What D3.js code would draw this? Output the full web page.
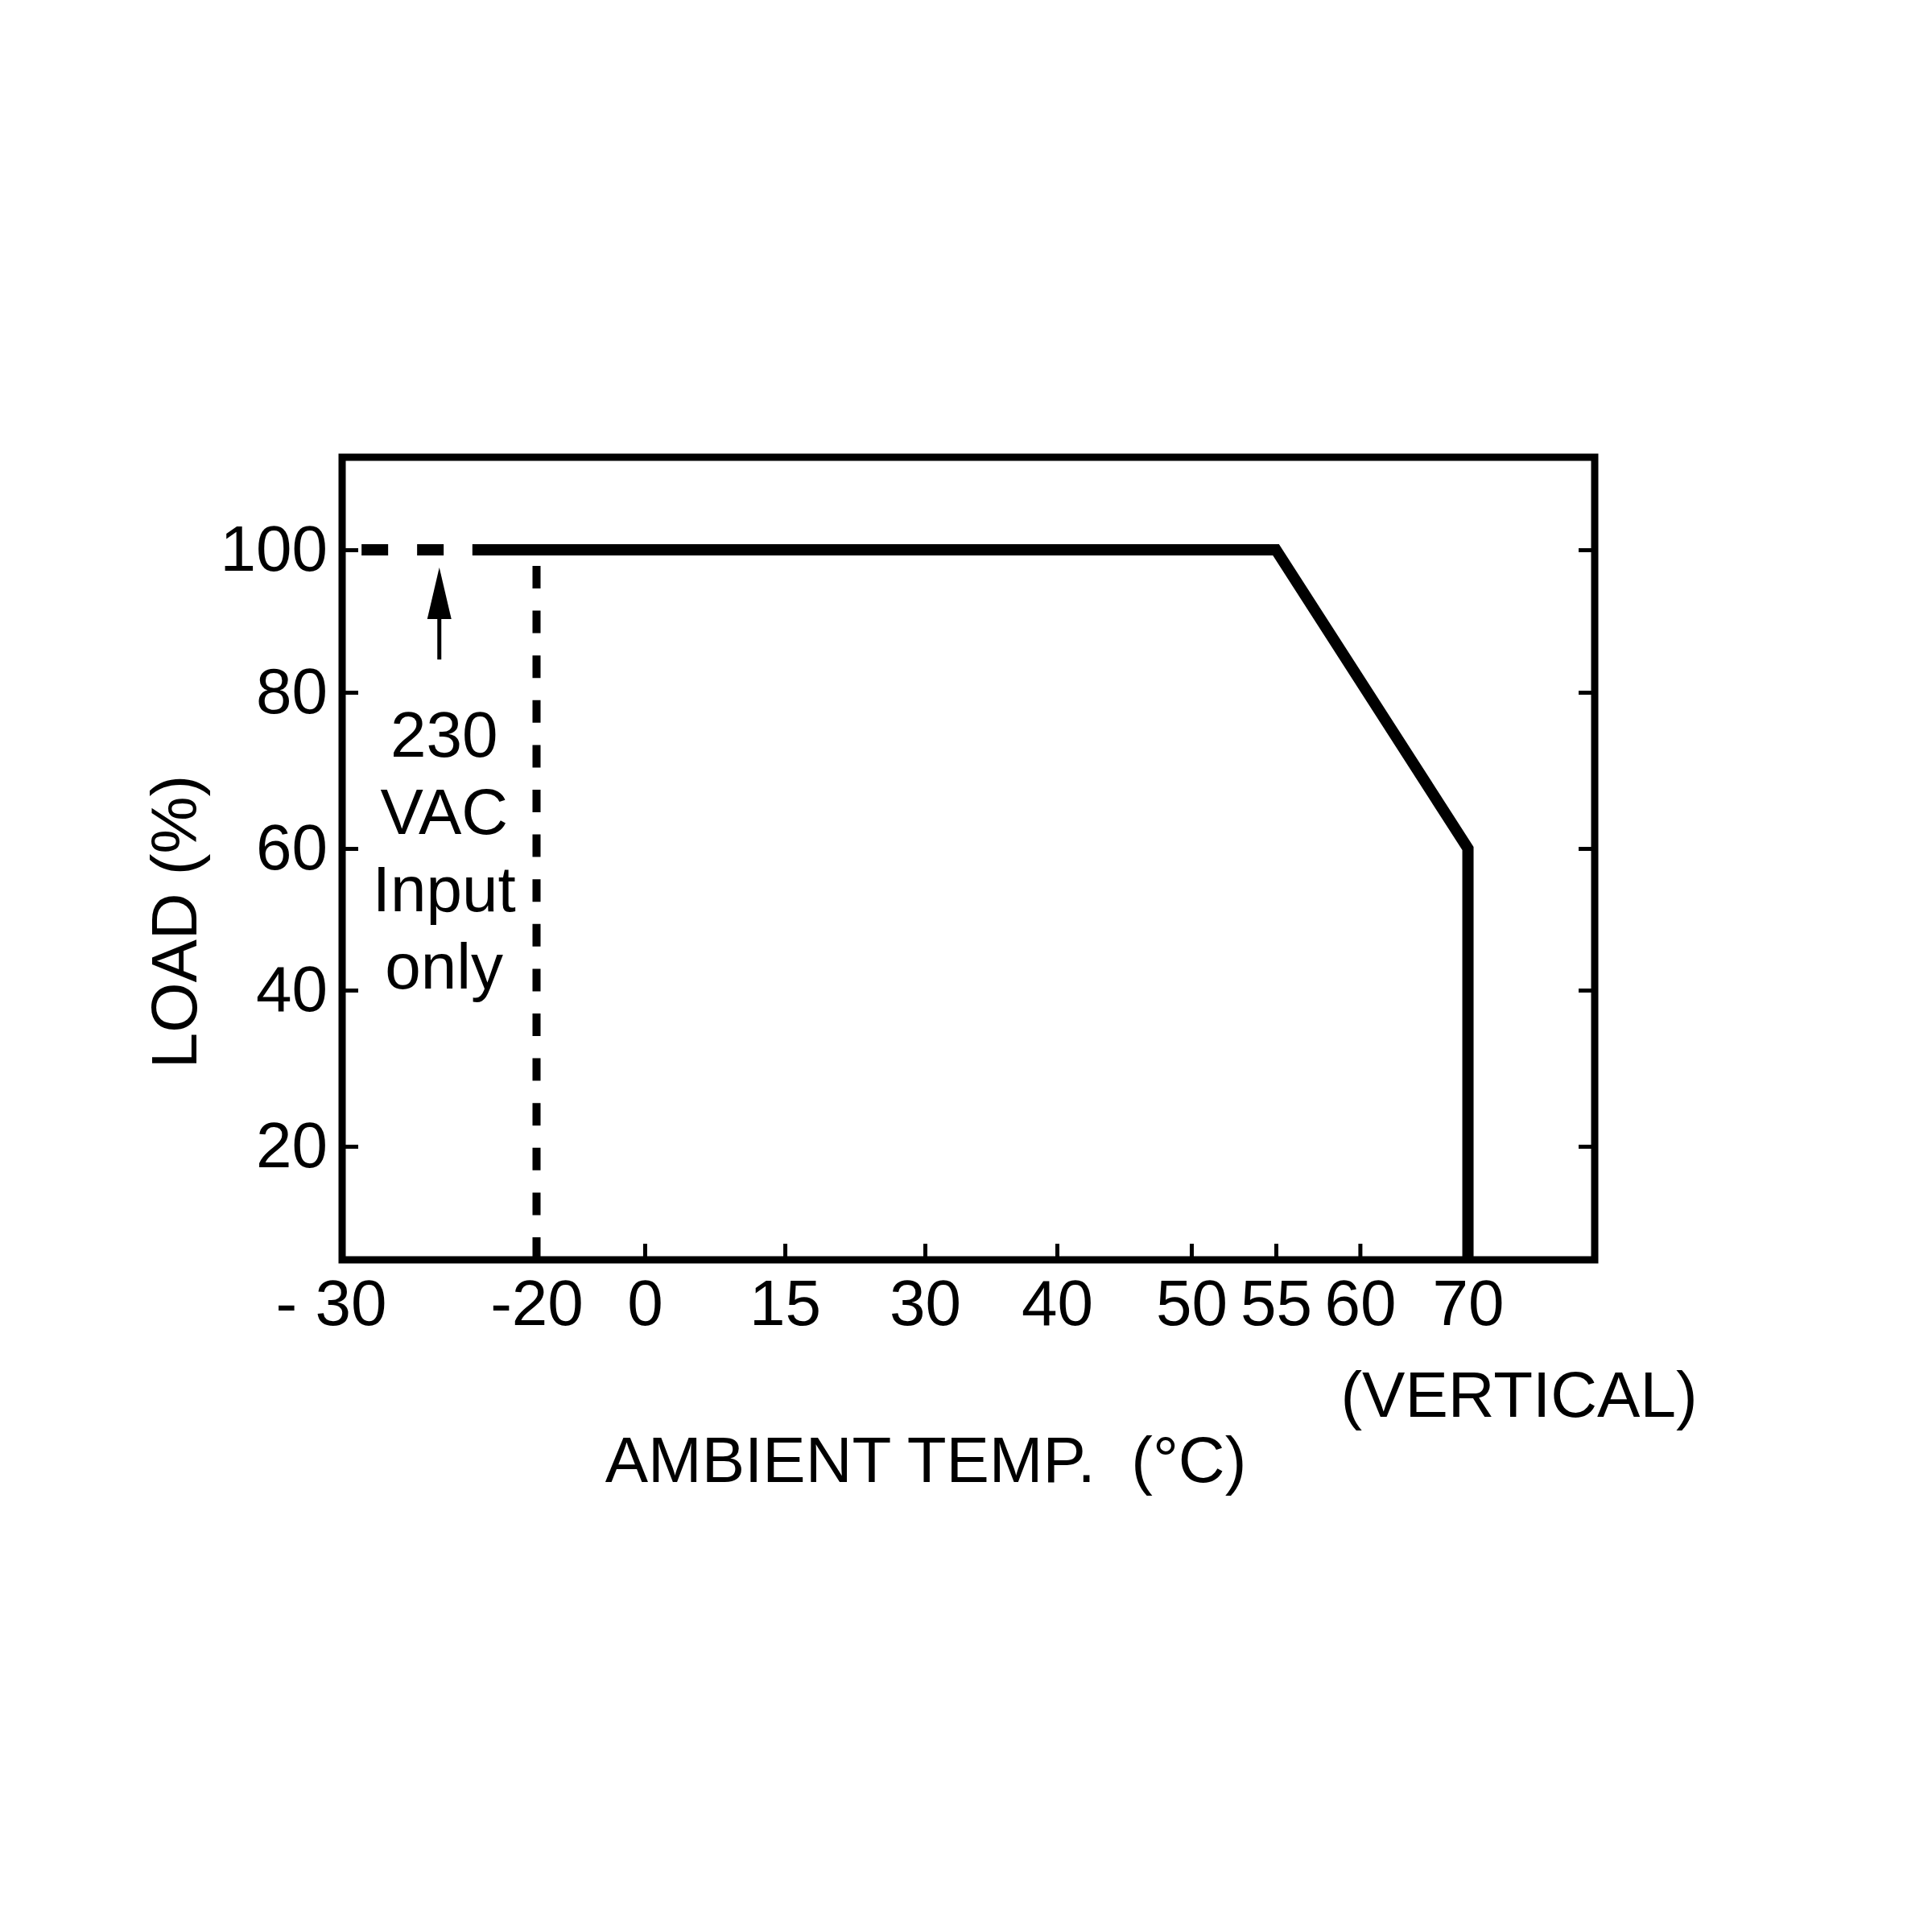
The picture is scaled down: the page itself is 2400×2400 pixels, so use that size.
<!DOCTYPE html>
<html>
<head>
<meta charset="utf-8">
<script src="https://cdn.jsdelivr.net/npm/d3@7"></script>
<style>
  body { margin: 0; background: #fff; }
  text { font-family: "Liberation Sans", Arial, sans-serif; fill: #000; }
</style>
</head>
<body>
<div class="chart"></div>
<script>
// axis values
var tempTicks = [-30, -20, 0, 15, 30, 40, 50, 55, 60, 70];
var tempTickLabels = ["- 30", "-20", "0", "15", "30", "40", "50", "55", "60", "70"];
var loadTicks = [20, 40, 60, 80, 100];

// derating curve (solid) and the 230 VAC only extension (dashed)
var deratingTemp = [-23.3, 55, 70, 70];
var deratingLoad = [100, 100, 60, 0];
var lowTemp = [-29, -23.3];
var lowLoad = [100, 100];

// vertical limit line and arrow note
var limitTemp = -20;
var limitLoad = [0, 100];
var arrowTemp = -25;
var arrowLoad = [84.6, 97.5];
var noteLines = ["230", "VAC", "Input", "only"];

var svgWidth = 2400;
var svgHeight = 2400;

var margin = { top: 568, right: 419, bottom: 835, left: 425 };
var width = svgWidth - margin.left - margin.right;
var height = svgHeight - margin.top - margin.bottom;

var svg = d3.select(".chart")
  .append("svg")
  .attr("width", svgWidth)
  .attr("height", svgHeight);

svg.append("rect")
  .attr("width", svgWidth)
  .attr("height", svgHeight)
  .attr("fill", "#fff");

var chartGroup = svg.append("g")
  .attr("transform", `translate(${margin.left}, ${margin.top})`);

// the original axes are not evenly spaced, so both scales are piecewise
var xFrac = [0, 0.1552, 0.2416, 0.3535, 0.4653, 0.5707, 0.678, 0.7455, 0.8126, 0.8988, 1];
var xScale = d3.scaleLinear()
  .domain(tempTicks.concat([81.7]))
  .range(xFrac.map(f => f * width));

var yFrac = [0, 0.1414, 0.3360, 0.5125, 0.7071, 0.8847, 1];
var yScale = d3.scaleLinear()
  .domain([4.8].concat(loadTicks, [112.4]))
  .range(yFrac.map(f => height - f * height))
  .clamp(true);

var fontSize = 80;

// bottom axis
var bottomAxis = d3.axisBottom(xScale)
  .tickValues(tempTicks)
  .tickFormat((d, i) => tempTickLabels[i])
  .tickSizeInner(-20)
  .tickSizeOuter(0)
  .tickPadding(24);

var xAxis = chartGroup.append("g")
  .attr("transform", `translate(0, ${height})`)
  .call(bottomAxis);

xAxis.selectAll("text")
  .attr("font-size", fontSize)
  .attr("dx", (d, i) => i === 0 ? -14 : 0);

// left axis
var leftAxis = d3.axisLeft(yScale)
  .tickValues(loadTicks)
  .tickSizeInner(-20)
  .tickSizeOuter(0)
  .tickPadding(18);

var yAxis = chartGroup.append("g").call(leftAxis);
yAxis.selectAll("text").attr("font-size", fontSize);

// right axis, ticks only
var rightAxis = d3.axisRight(yScale)
  .tickValues(loadTicks)
  .tickFormat("")
  .tickSizeInner(-20)
  .tickSizeOuter(0);

chartGroup.append("g")
  .attr("transform", `translate(${width}, 0)`)
  .call(rightAxis);

chartGroup.selectAll(".domain").remove();
chartGroup.selectAll(".tick line")
  .attr("stroke", "#000")
  .attr("stroke-width", 5);
chartGroup.selectAll(".tick text")
  .attr("font-family", "'Liberation Sans', Arial, sans-serif")
  .attr("fill", "#000");

// frame
chartGroup.append("rect")
  .attr("width", width)
  .attr("height", height)
  .attr("fill", "none")
  .attr("stroke", "#000")
  .attr("stroke-width", 9);

// vertical dashed limit at -20
chartGroup.append("line")
  .attr("x1", xScale(limitTemp))
  .attr("x2", xScale(limitTemp))
  .attr("y1", yScale(limitLoad[0]))
  .attr("y2", yScale(limitLoad[1]))
  .attr("stroke", "#000")
  .attr("stroke-width", 10)
  .attr("stroke-dasharray", "28,27.6");

var line = d3.line()
  .x(d => xScale(d[0]))
  .y(d => yScale(d[1]));

// dashed low-temperature part
chartGroup.append("path")
  .datum(d3.zip(lowTemp, lowLoad))
  .attr("d", line)
  .attr("fill", "none")
  .attr("stroke", "#000")
  .attr("stroke-width", 14)
  .attr("stroke-dasharray", "33,36");

// derating curve
chartGroup.append("path")
  .datum(d3.zip(deratingTemp, deratingLoad))
  .attr("d", line)
  .attr("fill", "none")
  .attr("stroke", "#000")
  .attr("stroke-width", 14)
  .attr("stroke-linejoin", "miter");

// arrow
var ax = xScale(arrowTemp);
var yTip = yScale(arrowLoad[1]);
var yTail = yScale(arrowLoad[0]);
chartGroup.append("line")
  .attr("x1", ax)
  .attr("x2", ax)
  .attr("y1", yTail)
  .attr("y2", yTip + 40)
  .attr("stroke", "#000")
  .attr("stroke-width", 5);

chartGroup.append("path")
  .attr("d", `M${ax},${yTip} L${ax - 15},${yTip + 64} L${ax + 15},${yTip + 64} Z`)
  .attr("fill", "#000");

// note text
chartGroup.append("g")
  .selectAll("text")
  .data(noteLines)
  .enter()
  .append("text")
  .attr("x", ax + 6)
  .attr("y", (d, i) => 372 + i * 96)
  .attr("text-anchor", "middle")
  .attr("font-size", fontSize)
  .text(d => d);

// axis titles
svg.append("text")
  .attr("transform", "translate(244, 1145) rotate(-90)")
  .attr("text-anchor", "middle")
  .attr("font-size", fontSize)
  .text("LOAD (%)");

svg.append("text")
  .attr("x", 1150)
  .attr("y", 1841)
  .attr("text-anchor", "middle")
  .attr("font-size", fontSize)
  .attr("xml:space", "preserve")
  .text("AMBIENT TEMP.  (°C)");

svg.append("text")
  .attr("x", 1887)
  .attr("y", 1760)
  .attr("text-anchor", "middle")
  .attr("font-size", fontSize)
  .text("(VERTICAL)");
</script>
</body>
</html>
